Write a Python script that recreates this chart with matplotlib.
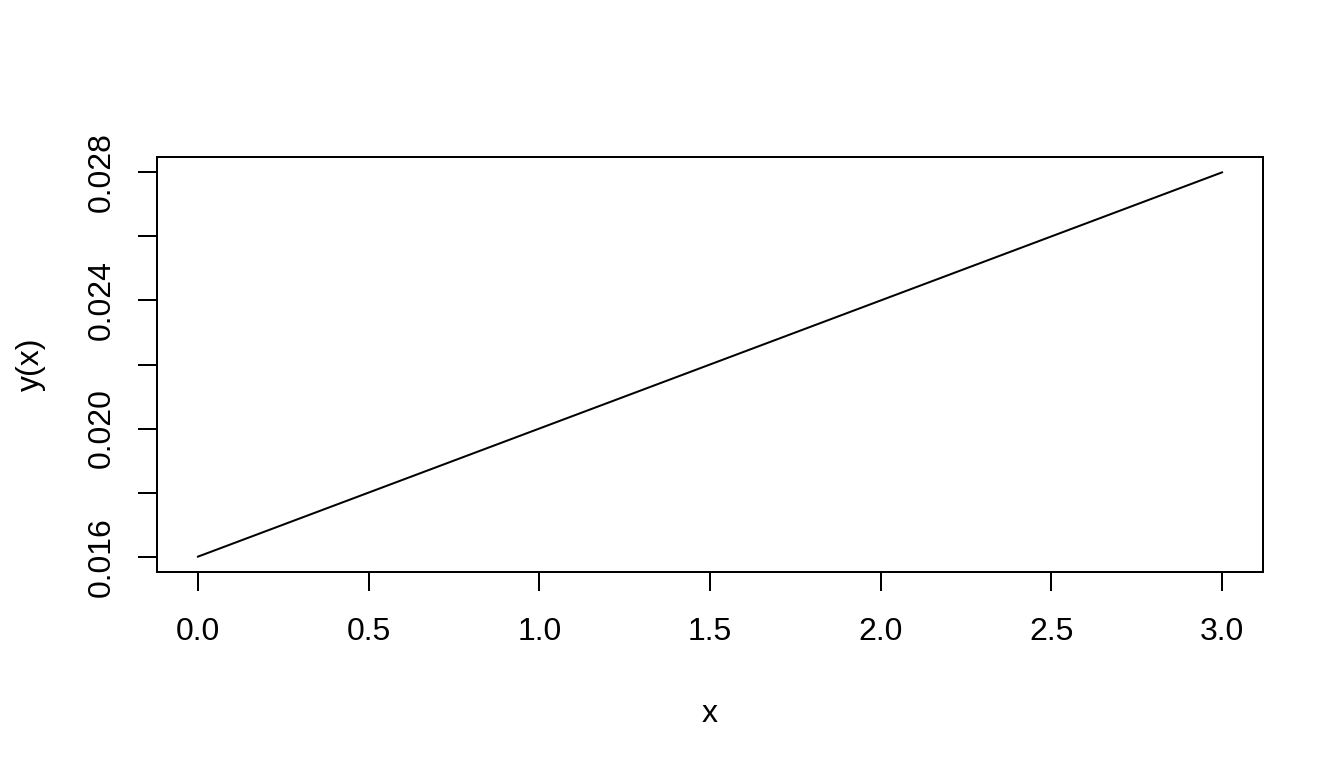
import matplotlib
matplotlib.use("Agg")
import matplotlib.pyplot as plt

# values
x = [0.0, 0.5, 1.0, 1.5, 2.0, 2.5, 3.0]
y = [0.016, 0.018, 0.020, 0.022, 0.024, 0.026, 0.028]
xticks = [0.0, 0.5, 1.0, 1.5, 2.0, 2.5, 3.0]
xtick_labels = ["0.0", "0.5", "1.0", "1.5", "2.0", "2.5", "3.0"]
yticks = [0.016, 0.018, 0.020, 0.022, 0.024, 0.026, 0.028]
ytick_labels = ["0.016", "", "0.020", "", "0.024", "", "0.028"]

plt.rcParams['font.family'] = ['Liberation Sans', 'DejaVu Sans']
plt.rcParams['font.size'] = 12

fig = plt.figure(figsize=(7, 4), dpi=192)
ax = fig.add_axes([157 / 1344, 1 - 572 / 768, (1263 - 157) / 1344, (572 - 157) / 768])

ax.plot(x, y, color="black", linewidth=0.75)

# R style 4% padding
xr = max(x) - min(x)
yr = max(y) - min(y)
ax.set_xlim(min(x) - 0.04 * xr, max(x) + 0.04 * xr)
ax.set_ylim(min(y) - 0.04 * yr, max(y) + 0.04 * yr)

ax.set_xticks(xticks)
ax.set_xticklabels(xtick_labels)
ax.set_yticks(yticks)
ax.set_yticklabels(ytick_labels, rotation=90, va="center")

ax.tick_params(direction="out", length=7.2, width=0.75, color="black")
ax.tick_params(axis="x", pad=9.5)
ax.tick_params(axis="y", pad=8)
for s in ax.spines.values():
    s.set_linewidth(0.75)

ax.set_xlabel("x", labelpad=19.5)
ax.set_ylabel("y(x)", labelpad=15)

fig.savefig("out.png", dpi=192)
